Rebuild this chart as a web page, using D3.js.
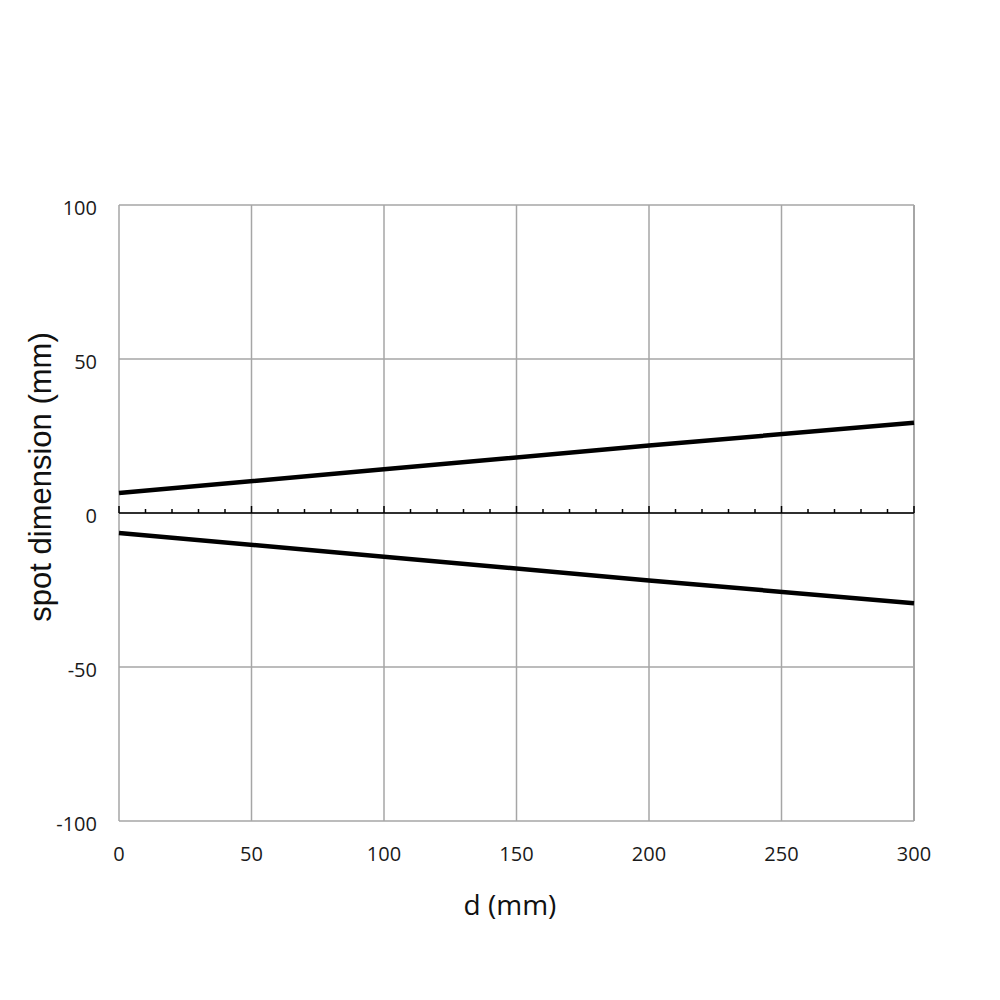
<!DOCTYPE html>
<html><head><meta charset="utf-8">
<script src="https://cdn.jsdelivr.net/npm/d3@7"></script>
<style>body{margin:0;background:#fff}</style>
</head><body>
<script>
const distances = [0, 100, 200, 300];
const upperSpot = [6.5, 14.2, 21.9, 29.3];
const lowerSpot = [-6.5, -14.2, -21.9, -29.3];
const xTicks = [0, 50, 100, 150, 200, 250, 300];
const yTicks = [-100, -50, 0, 50, 100];
const minorTicks = d3.range(0, 301, 10);

const W = 1000, H = 1000;
const m = {left: 119, right: 914, top: 205, bottom: 821};
const svg = d3.select("body").append("svg").attr("width", W).attr("height", H);
const x = d3.scaleLinear().domain([0, 300]).range([m.left, m.right]);
const y = d3.scaleLinear().domain([-100, 100]).range([m.bottom, m.top]);

// grid
const g = svg.append("g");
g.selectAll("line.v").data(xTicks).join("line")
  .attr("x1", d => x(d)).attr("x2", d => x(d)).attr("y1", y(100)).attr("y2", y(-100))
  .attr("stroke", "#a6a6a6").attr("stroke-width", d => d === 300 ? 2 : 1.5);
g.selectAll("line.h").data(yTicks).join("line")
  .attr("x1", x(0)).attr("x2", x(300)).attr("y1", d => y(d)).attr("y2", d => y(d))
  .attr("stroke", "#a6a6a6").attr("stroke-width", 1.5);

// zero axis with ticks
svg.append("line").attr("x1", x(0)).attr("x2", x(300)).attr("y1", y(0)).attr("y2", y(0))
  .attr("stroke", "#000").attr("stroke-width", 1.5);
svg.selectAll("line.mt").data(minorTicks).join("line")
  .attr("x1", d => x(d)).attr("x2", d => x(d))
  .attr("y1", y(0)).attr("y2", d => y(0) - (d % 50 === 0 ? 7 : 4))
  .attr("stroke", "#000").attr("stroke-width", 1.5);

// lines
const line = d3.line().x((d, i) => x(distances[i])).y(d => y(d));
[upperSpot, lowerSpot].forEach(s => {
  svg.append("path").attr("d", line(s)).attr("fill", "none")
    .attr("stroke", "#000").attr("stroke-width", 4.5);
});

// tick labels
const font = "'Open Sans', sans-serif";
svg.selectAll("text.yl").data(yTicks).join("text")
  .attr("x", 97).attr("y", d => y(d) + 10)
  .attr("text-anchor", "end").attr("font-family", font).attr("font-size", 20)
  .attr("fill", "#1a1a1a").text(d => d);
svg.selectAll("text.xl").data(xTicks).join("text")
  .attr("x", d => x(d)).attr("y", 861)
  .attr("text-anchor", "middle").attr("font-family", font).attr("font-size", 20)
  .attr("fill", "#1a1a1a").text(d => d);

// titles
svg.append("text").attr("x", 510).attr("y", 915).attr("text-anchor", "middle")
  .attr("font-family", font).attr("font-size", 28).attr("fill", "#111").text("d (mm)");
svg.append("text").attr("transform", "translate(51,477) rotate(-90)")
  .attr("text-anchor", "middle").attr("font-family", "'Liberation Sans', Arial, sans-serif")
  .attr("font-size", 31).attr("fill", "#111").text("spot dimension (mm)");
</script>
</body></html>
